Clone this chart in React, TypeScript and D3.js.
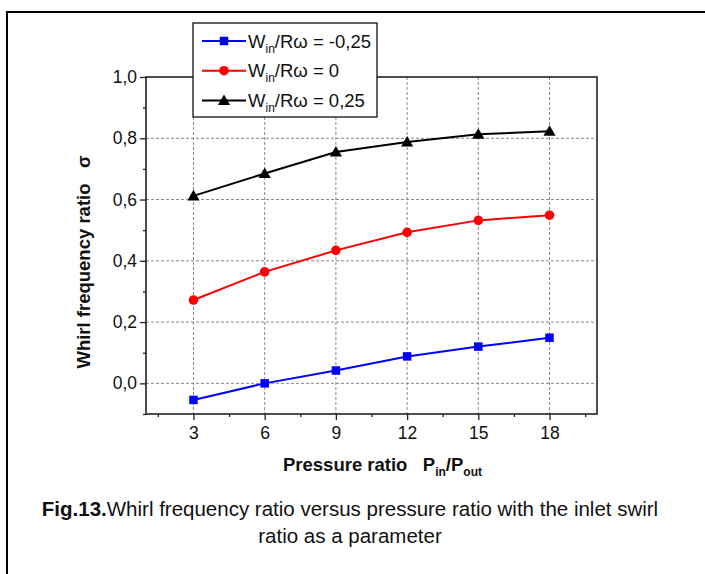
import React, { useEffect, useRef } from "react";
import * as d3 from "d3";

const pressureRatio = [3, 6, 9, 12, 15, 18];
const sigmaNeg = [-0.054, 0.0, 0.042, 0.088, 0.12, 0.149];
const sigmaZero = [0.272, 0.364, 0.434, 0.493, 0.532, 0.549];
const sigmaPos = [0.612, 0.685, 0.755, 0.788, 0.813, 0.823];
const seriesLabels = ["-0,25", "0", "0,25"];
const xTicks = [3, 6, 9, 12, 15, 18];
const yTicks = [0, 0.2, 0.4, 0.6, 0.8, 1.0];

const FONT = "'Liberation Sans', Arial, Helvetica, sans-serif";

const series = [
  { values: sigmaNeg, color: "#0000ff", marker: "square", label: seriesLabels[0] },
  { values: sigmaZero, color: "#ff0000", marker: "circle", label: seriesLabels[1] },
  { values: sigmaPos, color: "#000000", marker: "triangle", label: seriesLabels[2] },
];

const symbolFor = (m: string) =>
  m === "square"
    ? d3.symbol().type(d3.symbolSquare).size(72)
    : m === "circle"
    ? d3.symbol().type(d3.symbolCircle).size(72)
    : d3.symbol().type(d3.symbolTriangle).size(64);

export default function App() {
  const ref = useRef<SVGSVGElement | null>(null);

  useEffect(() => {
    const svg = d3.select(ref.current);
    svg.selectAll("*").remove();

    const left = 146, right = 597, top = 77, bottom = 414;
    const x = d3.scaleLinear().domain([1, 20]).range([left, right]);
    const y = d3.scaleLinear().domain([-0.1, 1.0]).range([bottom, top]);

    // outer figure frame
    svg.append("rect")
      .attr("x", 7).attr("y", 12)
      .attr("width", 800).attr("height", 700)
      .attr("fill", "white")
      .attr("stroke", "black")
      .attr("stroke-width", 2);

    // grid
    const grid = svg.append("g")
      .attr("stroke", "#888")
      .attr("stroke-width", 1)
      .attr("stroke-dasharray", "3,2");
    grid.selectAll("line.v")
      .data(xTicks)
      .enter()
        .append("line")
          .attr("x1", d => x(d)).attr("x2", d => x(d))
          .attr("y1", top).attr("y2", bottom);
    grid.selectAll("line.h")
      .data(yTicks.filter(d => d < 1))
      .enter()
        .append("line")
          .attr("x1", left).attr("x2", right)
          .attr("y1", d => y(d)).attr("y2", d => y(d));

    // axes
    const xAxis = svg.append("g")
      .attr("transform", `translate(0,${bottom})`)
      .call(d3.axisBottom(x).tickValues(xTicks).tickSize(6).tickFormat(d3.format("d")));
    svg.append("g")
      .attr("transform", `translate(0,${bottom})`)
      .call(d3.axisBottom(x).tickValues(d3.range(1.5, 20, 3)).tickSize(3).tickFormat(() => ""));
    const yAxis = svg.append("g")
      .attr("transform", `translate(${left},0)`)
      .call(d3.axisLeft(y).tickValues(yTicks).tickSize(6)
        .tickFormat(d => d3.format(".1f")(d as number).replace(".", ",")));
    svg.append("g")
      .attr("transform", `translate(${left},0)`)
      .call(d3.axisLeft(y).tickValues(d3.range(-0.1, 1.0, 0.2)).tickSize(3).tickFormat(() => ""));

    svg.selectAll(".domain").remove();
    svg.selectAll(".tick line").attr("stroke", "#222").attr("stroke-width", 1.3);
    [xAxis, yAxis].forEach(a =>
      a.selectAll("text")
        .attr("font-family", FONT)
        .attr("font-size", 17.5)
        .attr("fill", "#111"));
    xAxis.selectAll("text").attr("y", 13);
    yAxis.selectAll("text").attr("x", -9);

    // plot frame
    svg.append("rect")
      .attr("x", left).attr("y", top)
      .attr("width", right - left).attr("height", bottom - top)
      .attr("fill", "none")
      .attr("stroke", "#222")
      .attr("stroke-width", 1.6);

    // series
    const line = d3.line<number>()
      .x((d, i) => x(pressureRatio[i]))
      .y(d => y(d));

    series.forEach(s => {
      svg.append("path")
        .attr("d", line(s.values))
        .attr("fill", "none")
        .attr("stroke", s.color)
        .attr("stroke-width", 2);
      svg.selectAll(null)
        .data(s.values)
        .enter()
          .append("path")
            .attr("d", symbolFor(s.marker))
            .attr("transform", (d, i) => `translate(${x(pressureRatio[i])},${y(d) + (s.marker === "triangle" ? 1 : 0)})`)
            .attr("fill", s.color);
    });

    // legend
    const legend = svg.append("g");
    legend.append("rect")
      .attr("x", 193).attr("y", 23)
      .attr("width", 184).attr("height", 94)
      .attr("fill", "white")
      .attr("stroke", "#111")
      .attr("stroke-width", 1.3);
    series.forEach((s, i) => {
      const ly = 41 + i * 29.7;
      legend.append("line")
        .attr("x1", 202).attr("x2", 246)
        .attr("y1", ly).attr("y2", ly)
        .attr("stroke", s.color).attr("stroke-width", 2);
      legend.append("path")
        .attr("d", symbolFor(s.marker))
        .attr("transform", `translate(224,${ly + (s.marker === "triangle" ? 1 : 0)})`)
        .attr("fill", s.color);
      const t = legend.append("text")
        .attr("x", 248).attr("y", ly + 6.5)
        .attr("font-family", FONT)
        .attr("font-size", 18.5)
        .attr("fill", "#111");
      t.append("tspan").text("W");
      t.append("tspan").attr("font-size", 12).attr("dy", 5).text("in");
      t.append("tspan").attr("dy", -5).text(`/R\u03c9 = ${s.label}`);
    });

    // axis titles
    const xt = svg.append("text")
      .attr("x", 283).attr("y", 471)
      .attr("font-family", FONT)
      .attr("font-size", 18.5)
      .attr("font-weight", "bold")
      .attr("fill", "#111");
    xt.append("tspan").text("Pressure ratio\u00a0\u00a0\u00a0P");
    xt.append("tspan").attr("font-size", 12).attr("dy", 5).text("in");
    xt.append("tspan").attr("dy", -5).text("/P");
    xt.append("tspan").attr("font-size", 12).attr("dy", 5).text("out");

    svg.append("text")
      .attr("transform", "translate(90,262) rotate(-90)")
      .attr("text-anchor", "middle")
      .attr("font-family", FONT)
      .attr("font-size", 18.5)
      .attr("font-weight", "bold")
      .attr("fill", "#111")
      .text("Whirl frequency ratio\u00a0\u00a0\u00a0\u03c3");

    // caption
    const cap = svg.append("text")
      .attr("x", 350).attr("y", 516)
      .attr("text-anchor", "middle")
      .attr("font-family", FONT)
      .attr("font-size", 20.5)
      .attr("fill", "#111");
    cap.append("tspan").attr("font-weight", "bold").text("Fig.13.");
    cap.append("tspan").text("Whirl frequency ratio versus pressure ratio with the inlet swirl");
    svg.append("text")
      .attr("x", 350).attr("y", 543)
      .attr("text-anchor", "middle")
      .attr("font-family", FONT)
      .attr("font-size", 20.5)
      .attr("fill", "#111")
      .text("ratio as a parameter");
  }, []);

  return (
    <svg
      ref={ref}
      width={705}
      height={574}
      style={{ position: "absolute", left: 0, top: 0, background: "white" }}
    />
  );
}
